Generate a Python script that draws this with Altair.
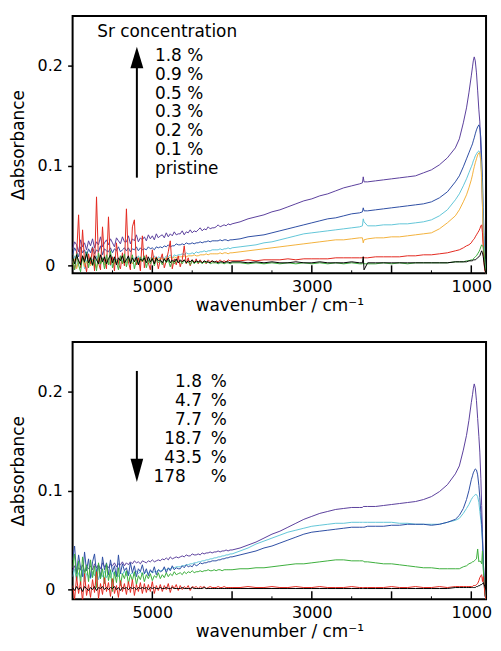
import altair as alt
import pandas as pd

# ---------------- wavenumber grid (cm-1) ----------------
WN_NOISE = list(range(6000, 3999, -25))  # 81 points, noisy high-wavenumber region
WN_SMOOTH = [3900, 3800, 3700, 3600, 3500, 3400, 3300, 3200, 3100, 3000, 2900, 2800, 2700, 2600, 2500, 2400,
             2365, 2355, 2345, 2300,
             2200, 2100, 2000, 1900, 1800, 1700, 1600, 1500, 1400, 1300, 1200,
             1150, 1100, 1060, 1030, 1000,
             985, 975, 963, 950, 935, 920, 905, 893, 880, 870, 860, 850, 840, 830, 815]
WN = WN_NOISE + WN_SMOOTH

# ---------------- TOP panel: Sr concentration series ----------------
TOP_NAMES = ["1.8 %", "0.9 %", "0.5 %", "0.3 %", "0.2 %", "0.1 %", "pristine"]
TOP_COLORS = ["#5b3f9c", "#2d4ea3", "#62c6d8", "#f3b13c", "#e3281f", "#3cae3c", "#000000"]

top_purple_n = [0.017, 0.024, 0.021, 0.014, 0.026, 0.019, 0.023, 0.016, 0.025,
                0.020, 0.027, 0.018, 0.024, 0.021, 0.029, 0.019, 0.023, 0.026,
                0.021, 0.027, 0.023, 0.019, 0.028, 0.025, 0.022, 0.029, 0.024,
                0.024, 0.030, 0.022, 0.027, 0.025, 0.031, 0.024, 0.028, 0.026,
                0.029, 0.025, 0.031, 0.027, 0.030, 0.026, 0.032, 0.028, 0.030,
                0.031, 0.028, 0.033, 0.029, 0.032, 0.030, 0.034, 0.031, 0.032,
                0.032, 0.035, 0.031, 0.034, 0.033, 0.036, 0.033, 0.035, 0.034,
                0.036, 0.038, 0.035, 0.037, 0.036, 0.039, 0.037, 0.038, 0.038,
                0.039, 0.041, 0.039, 0.040, 0.041, 0.040, 0.042, 0.041, 0.042]
top_purple_s = [0.044, 0.047, 0.049, 0.051, 0.054, 0.056, 0.059, 0.062, 0.065, 0.067, 0.070, 0.072, 0.075, 0.078, 0.080, 0.082,
                0.083, 0.089, 0.084, 0.084,
                0.085, 0.086, 0.087, 0.088, 0.089, 0.090, 0.093, 0.096, 0.101, 0.108, 0.118,
                0.127, 0.143, 0.158, 0.173, 0.190,
                0.199, 0.205, 0.209, 0.205, 0.193, 0.175, 0.156, 0.144, 0.115, 0.088, 0.061, 0.026, 0.009, -0.003, -0.008]

top_blue_n = [0.011, 0.018, 0.014, 0.009, 0.019, 0.013, 0.016, 0.010, 0.017,
              0.013, 0.019, 0.012, 0.016, 0.014, 0.020, 0.011, 0.017, 0.015,
              0.014, 0.018, 0.013, 0.017, 0.015, 0.019, 0.014, 0.016, 0.018,
              0.015, 0.018, 0.014, 0.017, 0.016, 0.019, 0.015, 0.018, 0.016,
              0.017, 0.016, 0.019, 0.017, 0.018, 0.016, 0.019, 0.018, 0.019,
              0.018, 0.020, 0.019, 0.021, 0.019, 0.020, 0.020, 0.022, 0.021,
              0.021, 0.022, 0.021, 0.023, 0.022, 0.022, 0.023, 0.022, 0.023,
              0.023, 0.024, 0.023, 0.024, 0.024, 0.025, 0.024, 0.025, 0.025,
              0.025, 0.025, 0.026, 0.025, 0.026, 0.026, 0.025, 0.026, 0.026]
top_blue_s = [0.027, 0.029, 0.030, 0.031, 0.033, 0.035, 0.037, 0.039, 0.041, 0.043, 0.045, 0.047, 0.048, 0.050, 0.052, 0.053,
              0.054, 0.058, 0.055, 0.055,
              0.056, 0.057, 0.058, 0.059, 0.060, 0.061, 0.062, 0.064, 0.068, 0.074, 0.084,
              0.090, 0.099, 0.107, 0.113, 0.119,
              0.122, 0.125, 0.128, 0.132, 0.136, 0.139, 0.141, 0.138, 0.128, 0.108, 0.088, 0.058, 0.030, 0.002, -0.008]

top_cyan_n = [0.003, 0.010, -0.002, 0.006, 0.001, 0.009, -0.003, 0.005, 0.008,
              0.002, 0.007, -0.001, 0.010, 0.004, 0.001, 0.008, 0.003, 0.006,
              0.005, 0.000, 0.009, 0.003, 0.007, 0.002, 0.010, 0.004, 0.006,
              0.004, 0.009, 0.005, 0.002, 0.008, 0.006, 0.010, 0.005, 0.007,
              0.006, 0.009, 0.005, 0.008, 0.007, 0.010, 0.006, 0.009, 0.008,
              0.009, 0.007, 0.010, 0.009, 0.011, 0.008, 0.011, 0.010, 0.011,
              0.011, 0.012, 0.011, 0.013, 0.012, 0.012, 0.013, 0.012, 0.014,
              0.013, 0.014, 0.014, 0.015, 0.014, 0.015, 0.015, 0.016, 0.016,
              0.016, 0.016, 0.017, 0.016, 0.017, 0.017, 0.018, 0.017, 0.018]
top_cyan_s = [0.019, 0.020, 0.021, 0.023, 0.024, 0.026, 0.028, 0.030, 0.032, 0.033, 0.034, 0.035, 0.036, 0.037, 0.038, 0.039,
              0.040, 0.047, 0.044, 0.040,
              0.040, 0.041, 0.041, 0.042, 0.042, 0.043, 0.044, 0.046, 0.050, 0.056, 0.066,
              0.072, 0.080, 0.087, 0.093, 0.099,
              0.102, 0.105, 0.107, 0.110, 0.112, 0.114, 0.115, 0.113, 0.105, 0.092, 0.074, 0.040, 0.020, 0.000, -0.008]

top_orange_n = [0.001, 0.007, -0.003, 0.005, 0.002, 0.008, -0.001, 0.004, 0.006,
                0.000, 0.006, 0.003, -0.002, 0.007, 0.002, 0.005, 0.001, 0.006,
                0.004, 0.001, 0.007, 0.002, 0.006, 0.003, 0.008, 0.002, 0.005,
                0.003, 0.007, 0.004, 0.002, 0.006, 0.005, 0.008, 0.004, 0.006,
                0.005, 0.007, 0.004, 0.006, 0.006, 0.008, 0.005, 0.007, 0.007,
                0.007, 0.006, 0.008, 0.007, 0.009, 0.007, 0.009, 0.008, 0.009,
                0.009, 0.009, 0.010, 0.009, 0.010, 0.010, 0.010, 0.011, 0.010,
                0.010, 0.011, 0.011, 0.011, 0.012, 0.011, 0.012, 0.012, 0.012,
                0.012, 0.012, 0.013, 0.012, 0.013, 0.013, 0.012, 0.013, 0.013]
top_orange_s = [0.014, 0.015, 0.016, 0.017, 0.018, 0.019, 0.020, 0.021, 0.022, 0.023, 0.024, 0.025, 0.026, 0.026, 0.027, 0.028,
                0.028, 0.023, 0.026, 0.027,
                0.028, 0.028, 0.029, 0.029, 0.030, 0.031, 0.032, 0.033, 0.037, 0.043, 0.050,
                0.056, 0.064, 0.071, 0.078, 0.086,
                0.091, 0.095, 0.099, 0.103, 0.107, 0.111, 0.113, 0.113, 0.104, 0.085, 0.060, 0.025, 0.010, -0.002, -0.008]

top_red_n = [0.005, -0.004, 0.010, 0.051, -0.002, 0.036, 0.004, -0.006, 0.012,
             0.002, 0.018, -0.005, 0.069, 0.003, -0.004, 0.039, 0.006, -0.003,
             0.049, 0.001, 0.009, -0.005, 0.023, 0.002, -0.003, 0.013, 0.000,
             0.057, 0.004, -0.004, 0.039, 0.046, 0.001, 0.008, -0.005, 0.030,
             -0.002, 0.011, 0.003, -0.004, 0.016, 0.002, 0.009, -0.003, 0.006,
             0.012, -0.002, 0.005, 0.014, 0.025, -0.003, 0.007, 0.001, 0.010,
             -0.001, 0.006, 0.020, 0.002, 0.008, 0.000, 0.006, 0.003, 0.007,
             0.002, 0.006, 0.003, 0.005, 0.002, 0.006, 0.004, 0.005, 0.003,
             0.005, 0.004, 0.006, 0.004, 0.005, 0.004, 0.006, 0.005, 0.005]
top_red_s = [0.005, 0.006, 0.005, 0.006, 0.006, 0.006, 0.007, 0.006, 0.007, 0.007, 0.007, 0.007, 0.008, 0.008, 0.008, 0.008,
             0.008, 0.009, 0.008, 0.008,
             0.009, 0.009, 0.009, 0.009, 0.010, 0.010, 0.011, 0.011, 0.012, 0.013, 0.015,
             0.016, 0.018, 0.020, 0.021, 0.023,
             0.025, 0.026, 0.027, 0.029, 0.031, 0.033, 0.035, 0.037, 0.040, 0.041, 0.033, 0.018, 0.002, -0.005, -0.008]

top_green_n = [0.007, -0.004, 0.012, 0.001, -0.006, 0.010, 0.003, 0.014, -0.002,
               0.009, 0.000, 0.006, -0.005, 0.013, 0.002, 0.008, -0.003, 0.011,
               0.001, 0.015, -0.002, 0.007, 0.004, -0.004, 0.010, 0.002, 0.012,
               -0.001, 0.008, 0.003, 0.011, -0.003, 0.006, 0.001, 0.009, 0.004,
               0.010, -0.002, 0.006, 0.002, 0.008, 0.000, 0.007, 0.003, 0.005,
               0.001, 0.007, 0.003, 0.006, -0.001, 0.005, 0.002, 0.006, 0.003,
               0.005, 0.002, 0.006, 0.003, 0.004, 0.001, 0.005, 0.002, 0.004,
               0.003, 0.004, 0.002, 0.004, 0.003, 0.004, 0.002, 0.003, 0.003,
               0.003, 0.002, 0.003, 0.003, 0.002, 0.003, 0.003, 0.002, 0.003]
top_green_s = [0.003, 0.002, 0.003, 0.002, 0.003, 0.002, 0.003, 0.002, 0.003, 0.002, 0.003, 0.002, 0.003, 0.002, 0.003, 0.002,
               0.002, 0.003, 0.002, 0.002,
               0.002, 0.003, 0.002, 0.003, 0.002, 0.003, 0.003, 0.003, 0.003, 0.003, 0.004,
               0.004, 0.004, 0.005, 0.005, 0.006,
               0.006, 0.007, 0.008, 0.009, 0.010, 0.012, 0.014, 0.016, 0.019, 0.021, 0.020, 0.019, 0.012, 0.004, -0.008]

top_black_n = [0.009, 0.002, 0.011, 0.005, 0.001, 0.010, 0.004, 0.012, 0.003,
               0.008, 0.001, 0.010, 0.006, 0.002, 0.011, 0.004, 0.009, 0.002,
               0.007, 0.011, 0.003, 0.009, 0.001, 0.008, 0.005, 0.010, 0.003,
               0.006, 0.010, 0.002, 0.008, 0.004, 0.009, 0.001, 0.007, 0.005,
               0.008, 0.003, 0.009, 0.004, 0.007, 0.002, 0.008, 0.005, 0.006,
               0.003, 0.007, 0.004, 0.008, 0.003, 0.006, 0.004, 0.007, 0.003,
               0.006, 0.004, 0.006, 0.003, 0.005, 0.004, 0.006, 0.003, 0.005,
               0.004, 0.005, 0.003, 0.005, 0.004, 0.004, 0.003, 0.005, 0.004,
               0.004, 0.003, 0.004, 0.004, 0.003, 0.004, 0.004, 0.003, 0.004]
top_black_s = [0.004, 0.003, 0.004, 0.003, 0.004, 0.003, 0.003, 0.004, 0.003, 0.003, 0.004, 0.003, 0.003, 0.003, 0.004, 0.003,
               0.003, 0.009, -0.004, 0.003,
               0.003, 0.003, 0.003, 0.003, 0.003, 0.003, 0.003, 0.003, 0.003, 0.003, 0.004,
               0.004, 0.004, 0.004, 0.005, 0.005,
               0.005, 0.006, 0.006, 0.006, 0.007, 0.008, 0.009, 0.010, 0.013, 0.015, 0.013, 0.009, 0.003, -0.003, -0.008]

TOP_VALUES = [top_purple_n + top_purple_s, top_blue_n + top_blue_s, top_cyan_n + top_cyan_s,
              top_orange_n + top_orange_s, top_red_n + top_red_s, top_green_n + top_green_s,
              top_black_n + top_black_s]

# ---------------- BOTTOM panel ----------------
BOT_NAMES = ["1.8 %", "4.7 %", "7.7 %", "18.7 %", "43.5 %", "178 %"]
BOT_COLORS = ["#5b3f9c", "#2d4ea3", "#62c6d8", "#3cae3c", "#e3281f", "#000000"]
BOT_DRAW_ORDER = ["1.8 %", "7.7 %", "4.7 %", "18.7 %", "43.5 %", "178 %"]

bot_purple_n = [0.019, 0.024, 0.017, 0.022, 0.020, 0.025, 0.018, 0.023, 0.021,
                0.024, 0.020, 0.026, 0.022, 0.025, 0.021, 0.027, 0.023, 0.024,
                0.022, 0.026, 0.024, 0.027, 0.023, 0.026, 0.025, 0.028, 0.024,
                0.027, 0.025, 0.028, 0.026, 0.029, 0.027, 0.028, 0.026, 0.029,
                0.028, 0.027, 0.029, 0.028, 0.030, 0.028, 0.029, 0.030, 0.029,
                0.031, 0.030, 0.032, 0.030, 0.033, 0.031, 0.032, 0.033, 0.032,
                0.033, 0.034, 0.033, 0.035, 0.034, 0.034, 0.036, 0.035, 0.035,
                0.036, 0.035, 0.037, 0.036, 0.037, 0.037, 0.038, 0.037, 0.038,
                0.038, 0.039, 0.038, 0.039, 0.039, 0.040, 0.039, 0.040, 0.040]
bot_purple_s = [0.042, 0.045, 0.048, 0.052, 0.056, 0.059, 0.063, 0.067, 0.071, 0.074, 0.077, 0.079, 0.081, 0.082, 0.083, 0.083,
                0.083, 0.084, 0.084, 0.084,
                0.084, 0.085, 0.086, 0.087, 0.088, 0.089, 0.091, 0.094, 0.099, 0.106, 0.117,
                0.125, 0.141, 0.156, 0.171, 0.189,
                0.197, 0.203, 0.208, 0.204, 0.191, 0.173, 0.155, 0.139, 0.112, 0.085, 0.058, 0.030, 0.010, -0.006, -0.010]

bot_blue_n = [0.030, 0.044, 0.016, 0.035, 0.022, 0.013, 0.038, 0.019, 0.031,
              0.012, 0.028, 0.036, 0.017, 0.025, 0.011, 0.033, 0.020, 0.027,
              0.015, 0.030, 0.018, 0.024, 0.013, 0.035, 0.016, 0.026, 0.019,
              0.022, 0.014, 0.027, 0.017, 0.024, 0.013, 0.021, 0.018, 0.025,
              0.016, 0.021, 0.014, 0.020, 0.017, 0.023, 0.015, 0.020, 0.018,
              0.019, 0.023, 0.017, 0.022, 0.019, 0.024, 0.020, 0.022, 0.021,
              0.021, 0.024, 0.022, 0.025, 0.023, 0.024, 0.023, 0.026, 0.024,
              0.025, 0.027, 0.026, 0.027, 0.027, 0.028, 0.028, 0.029, 0.029,
              0.029, 0.030, 0.030, 0.031, 0.031, 0.032, 0.032, 0.033, 0.033]
bot_blue_s = [0.035, 0.037, 0.039, 0.042, 0.044, 0.047, 0.050, 0.053, 0.056, 0.058, 0.059, 0.060, 0.061, 0.062, 0.063, 0.063,
              0.063, 0.063, 0.063, 0.064,
              0.064, 0.064, 0.065, 0.065, 0.066, 0.066, 0.066, 0.065, 0.066, 0.068, 0.071,
              0.075, 0.082, 0.091, 0.100, 0.111,
              0.115, 0.118, 0.120, 0.122, 0.121, 0.116, 0.105, 0.093, 0.078, 0.066, 0.050, 0.030, 0.012, -0.004, -0.010]

bot_cyan_n = [0.013, 0.021, 0.009, 0.017, 0.012, 0.020, 0.008, 0.016, 0.014,
              0.011, 0.018, 0.014, 0.020, 0.010, 0.017, 0.013, 0.019, 0.012,
              0.016, 0.012, 0.019, 0.014, 0.018, 0.013, 0.017, 0.015, 0.019,
              0.014, 0.018, 0.015, 0.017, 0.014, 0.019, 0.016, 0.018, 0.015,
              0.016, 0.018, 0.016, 0.019, 0.017, 0.018, 0.018, 0.020, 0.019,
              0.019, 0.021, 0.020, 0.021, 0.021, 0.022, 0.022, 0.023, 0.023,
              0.023, 0.024, 0.024, 0.025, 0.025, 0.026, 0.026, 0.027, 0.027,
              0.028, 0.028, 0.029, 0.029, 0.030, 0.030, 0.031, 0.031, 0.032,
              0.032, 0.033, 0.033, 0.034, 0.034, 0.035, 0.035, 0.036, 0.036]
bot_cyan_s = [0.039, 0.042, 0.046, 0.049, 0.052, 0.055, 0.058, 0.060, 0.062, 0.064, 0.065, 0.066, 0.067, 0.067, 0.068, 0.068,
              0.068, 0.068, 0.068, 0.068,
              0.068, 0.068, 0.068, 0.067, 0.067, 0.066, 0.066, 0.066, 0.066, 0.068, 0.070,
              0.072, 0.077, 0.082, 0.086, 0.091,
              0.093, 0.094, 0.095, 0.096, 0.096, 0.094, 0.088, 0.079, 0.070, 0.062, 0.047, 0.024, 0.008, -0.005, -0.010]

bot_green_n = [0.022, 0.036, 0.010, 0.029, 0.005, 0.033, 0.014, 0.025, 0.008,
               0.030, 0.012, 0.024, 0.002, 0.027, 0.011, 0.021, 0.006, 0.026,
               0.009, 0.020, -0.002, 0.018, 0.007, 0.022, 0.004, 0.016, 0.011,
               0.019, 0.006, 0.015, 0.009, 0.018, 0.005, 0.014, 0.010, 0.017,
               0.008, 0.015, 0.011, 0.016, 0.009, 0.014, 0.012, 0.017, 0.011,
               0.015, 0.012, 0.017, 0.013, 0.016, 0.014, 0.018, 0.015, 0.016,
               0.017, 0.015, 0.018, 0.016, 0.018, 0.017, 0.019, 0.017, 0.018,
               0.018, 0.019, 0.018, 0.019, 0.019, 0.020, 0.019, 0.019, 0.020,
               0.019, 0.020, 0.020, 0.019, 0.020, 0.020, 0.020, 0.020, 0.020]
bot_green_s = [0.021, 0.021, 0.022, 0.022, 0.023, 0.024, 0.025, 0.026, 0.026, 0.027, 0.028, 0.029, 0.030, 0.030, 0.029, 0.029,
               0.029, 0.029, 0.028, 0.028,
               0.027, 0.026, 0.026, 0.025, 0.024, 0.023, 0.022, 0.022, 0.021, 0.021, 0.021,
               0.021, 0.023, 0.024, 0.026, 0.027,
               0.028, 0.028, 0.029, 0.030, 0.031, 0.041, 0.028, 0.029, 0.028, 0.026, 0.039, 0.020, 0.010, -0.004, -0.010]

bot_red_n = [0.004, -0.010, 0.013, -0.004, 0.008, -0.012, 0.016, -0.006, 0.005,
             -0.008, 0.010, -0.003, 0.018, -0.009, 0.006, -0.005, 0.012, -0.002,
             0.007, -0.007, 0.011, -0.004, 0.004, -0.008, 0.009, -0.002, 0.006,
             -0.005, 0.008, -0.003, 0.010, -0.006, 0.005, -0.002, 0.007, -0.004,
             0.006, -0.003, 0.005, -0.002, 0.008, -0.004, 0.004, -0.001, 0.005,
             -0.002, 0.004, 0.000, 0.006, -0.003, 0.004, 0.001, 0.005, -0.001,
             0.004, 0.000, 0.003, 0.001, 0.004, -0.001, 0.003, 0.002, 0.003,
             0.001, 0.003, 0.002, 0.003, 0.001, 0.002, 0.003, 0.002, 0.002,
             0.002, 0.003, 0.002, 0.002, 0.003, 0.002, 0.002, 0.002, 0.002]
bot_red_s = [0.002, 0.003, 0.002, 0.002, 0.003, 0.002, 0.002, 0.003, 0.002, 0.002, 0.003, 0.002, 0.002, 0.002, 0.003, 0.002,
             0.002, 0.002, 0.002, 0.002,
             0.002, 0.002, 0.003, 0.002, 0.002, 0.003, 0.002, 0.002, 0.003, 0.002, 0.003,
             0.003, 0.003, 0.003, 0.003, 0.003,
             0.003, 0.004, 0.004, 0.004, 0.005, 0.006, 0.009, 0.012, 0.014, 0.015, 0.008, 0.013, 0.006, -0.005, -0.010]

bot_black_n = [0.002, -0.001, 0.003, 0.000, 0.002, -0.002, 0.003, 0.001, -0.001,
               0.002, 0.000, 0.003, -0.001, 0.002, 0.001, 0.003, 0.000, 0.002,
               0.000, 0.002, 0.001, 0.003, 0.000, 0.002, -0.001, 0.002, 0.001,
               0.002, 0.000, 0.002, 0.001, 0.002, 0.000, 0.002, 0.001, 0.002,
               0.001, 0.002, 0.000, 0.002, 0.001, 0.002, 0.001, 0.001, 0.002,
               0.001, 0.001, 0.002, 0.001, 0.001, 0.002, 0.001, 0.001, 0.001,
               0.001, 0.002, 0.001, 0.001, 0.001, 0.001, 0.002, 0.001, 0.001,
               0.001, 0.001, 0.001, 0.002, 0.001, 0.001, 0.001, 0.001, 0.001,
               0.001, 0.001, 0.001, 0.001, 0.001, 0.001, 0.001, 0.001, 0.001]
bot_black_s = [0.001, 0.001, 0.001, 0.001, 0.001, 0.001, 0.001, 0.001, 0.001, 0.001, 0.001, 0.001, 0.001, 0.001, 0.001, 0.001,
               0.001, 0.001, 0.001, 0.001,
               0.001, 0.001, 0.001, 0.001, 0.001, 0.001, 0.001, 0.001, 0.001, 0.001, 0.002,
               0.002, 0.002, 0.002, 0.002, 0.002,
               0.002, 0.002, 0.002, 0.002, 0.003, 0.003, 0.004, 0.004, 0.005, 0.005, 0.006, 0.007, 0.005, 0.003, 0.000]

BOT_VALUES = [bot_purple_n + bot_purple_s, bot_blue_n + bot_blue_s, bot_cyan_n + bot_cyan_s,
              bot_green_n + bot_green_s, bot_red_n + bot_red_s, bot_black_n + bot_black_s]

# ---------------- annotation text ----------------
TOP_HEADER = "Sr concentration"
BOT_INT = ["1", "4", "7", "18", "43", "178"]
BOT_FRAC = [".8", ".7", ".7", ".7", ".5", ""]

# annotation anchor positions (data coordinates)
TOP_HEADER_POS = (5691, 0.2294)
TOP_LABEL_WN = 4967
TOP_LABEL_A = [0.2045, 0.1858, 0.1671, 0.1484, 0.1297, 0.1110, 0.0923]
TOP_ARROW = {"wn": 5194, "tail": 0.0882, "head": 0.2084, "shaft_end": 0.200}
BOT_INT_WN = 4580
BOT_PCT_WN = 4268
BOT_LABEL_A = [0.2053, 0.1860, 0.1667, 0.1475, 0.1282, 0.1089]
BOT_ARROW = {"wn": 5194, "tail": 0.2211, "head": 0.1205, "shaft_end": 0.128}

MAJOR_TICKS = [5000, 4000, 3000, 2000, 1000]
MINOR_TICKS = [5500, 4500, 3500, 2500, 1500]

FONT = "DejaVu Sans"
W = 416
H = 259


def long_df(names, values):
    rows = []
    for n, vals in zip(names, values):
        assert len(vals) == len(WN), (n, len(vals))
        for w, a in zip(WN, vals):
            rows.append({"wn": w, "a": a, "s": n})
    return pd.DataFrame(rows)


def panel(names, colors, values, draw_order, ydomain, annotations):
    df = long_df(names, values)
    cmap = dict(zip(names, colors))
    xs = alt.Scale(domain=[815, 6000], reverse=True, nice=False, zero=False)
    ys = alt.Scale(domain=ydomain, nice=False, zero=False)
    xa = alt.Axis(values=[5000, 3000, 1000], format="d", title="wavenumber / cm⁻¹",
                  ticks=False, tickSize=0, labelPadding=5, titlePadding=3, labelFlush=False,
                  labelFont=FONT, titleFont=FONT, labelFontSize=16, titleFontSize=17,
                  titleFontWeight="normal", labelColor="black", titleColor="black", grid=False, domain=False)
    ya = alt.Axis(values=[0, 0.1, 0.2], format=".1~f", title="Δabsorbance",
                  tickSize=5, tickWidth=1.5, tickColor="black", labelAlign="center", labelPadding=18,
                  titlePadding=10, labelFont=FONT, titleFont=FONT, labelFontSize=16, titleFontSize=17,
                  titleFontWeight="normal", labelColor="black", titleColor="black", grid=False, domain=False)
    X = alt.X("wn:Q", scale=xs, axis=xa)
    Y = alt.Y("a:Q", scale=ys, axis=ya)
    layers = []
    for n in draw_order:
        layers.append(
            alt.Chart(df[df.s == n]).mark_line(strokeWidth=1, color=cmap[n], clip=True,
                                               interpolate="linear").encode(x=X, y=Y)
        )
    major = alt.Chart(pd.DataFrame({"wn": MAJOR_TICKS})).mark_rule(color="black", strokeWidth=1.5).encode(
        x=X, y=alt.value(H), y2=alt.value(H - 8))
    minor = alt.Chart(pd.DataFrame({"wn": MINOR_TICKS})).mark_rule(color="black", strokeWidth=1).encode(
        x=X, y=alt.value(H), y2=alt.value(H - 3))
    layers += [major, minor] + annotations(X, Y)
    return alt.layer(*layers).properties(width=W, height=H)


def top_annotations(X, Y):
    hdr = alt.Chart(pd.DataFrame({"wn": [TOP_HEADER_POS[0]], "a": [TOP_HEADER_POS[1]], "t": [TOP_HEADER]})).mark_text(
        align="left", baseline="alphabetic", font=FONT, fontSize=17, color="black").encode(x=X, y=Y, text="t:N")
    lab = alt.Chart(pd.DataFrame({"wn": [TOP_LABEL_WN] * len(TOP_NAMES), "a": TOP_LABEL_A, "t": TOP_NAMES})).mark_text(
        align="left", baseline="alphabetic", font=FONT, fontSize=17, color="black").encode(x=X, y=Y, text="t:N")
    shaft = alt.Chart(pd.DataFrame({"wn": [TOP_ARROW["wn"]], "a": [TOP_ARROW["tail"]], "a2": [TOP_ARROW["shaft_end"]]})).mark_rule(
        color="black", strokeWidth=2).encode(x=X, y=Y, y2="a2:Q")
    head = alt.Chart(pd.DataFrame({"wn": [TOP_ARROW["wn"]], "a": [TOP_ARROW["head"]]})).mark_point(
        shape="M0,-1L0.6,1L-0.6,1Z", size=470, filled=True, color="black", opacity=1, strokeWidth=0).encode(x=X, y=Y)
    return [hdr, lab, shaft, head]


def bot_annotations(X, Y):
    n = len(BOT_INT)
    ints = alt.Chart(pd.DataFrame({"wn": [BOT_INT_WN] * n, "a": BOT_LABEL_A, "t": BOT_INT})).mark_text(
        align="right", baseline="alphabetic", font=FONT, fontSize=17, color="black").encode(x=X, y=Y, text="t:N")
    fracs = alt.Chart(pd.DataFrame({"wn": [BOT_INT_WN] * n, "a": BOT_LABEL_A, "t": BOT_FRAC})).mark_text(
        align="left", baseline="alphabetic", font=FONT, fontSize=17, color="black").encode(x=X, y=Y, text="t:N")
    pct = alt.Chart(pd.DataFrame({"wn": [BOT_PCT_WN] * n, "a": BOT_LABEL_A, "t": ["%"] * n})).mark_text(
        align="left", baseline="alphabetic", font=FONT, fontSize=17, color="black").encode(x=X, y=Y, text="t:N")
    shaft = alt.Chart(pd.DataFrame({"wn": [BOT_ARROW["wn"]], "a": [BOT_ARROW["tail"]], "a2": [BOT_ARROW["shaft_end"]]})).mark_rule(
        color="black", strokeWidth=2).encode(x=X, y=Y, y2="a2:Q")
    head = alt.Chart(pd.DataFrame({"wn": [BOT_ARROW["wn"]], "a": [BOT_ARROW["head"]]})).mark_point(
        shape="M0,1L0.55,-1L-0.55,-1Z", size=540, filled=True, color="black", opacity=1, strokeWidth=0).encode(x=X, y=Y)
    return [ints, fracs, pct, shaft, head]


top = panel(TOP_NAMES, TOP_COLORS, TOP_VALUES, TOP_NAMES, [-0.0075, 0.25], top_annotations)
bottom = panel(BOT_NAMES, BOT_COLORS, BOT_VALUES, BOT_DRAW_ORDER, [-0.0099, 0.2505], bot_annotations)

chart = alt.vconcat(top, bottom, spacing=27).properties(
    padding={"left": 0, "top": 5, "right": 0, "bottom": 0},
    background="white"
).configure_view(
    stroke="black", strokeWidth=2
)

chart.save("out.html", embed_options={"renderer": "svg", "actions": False})
